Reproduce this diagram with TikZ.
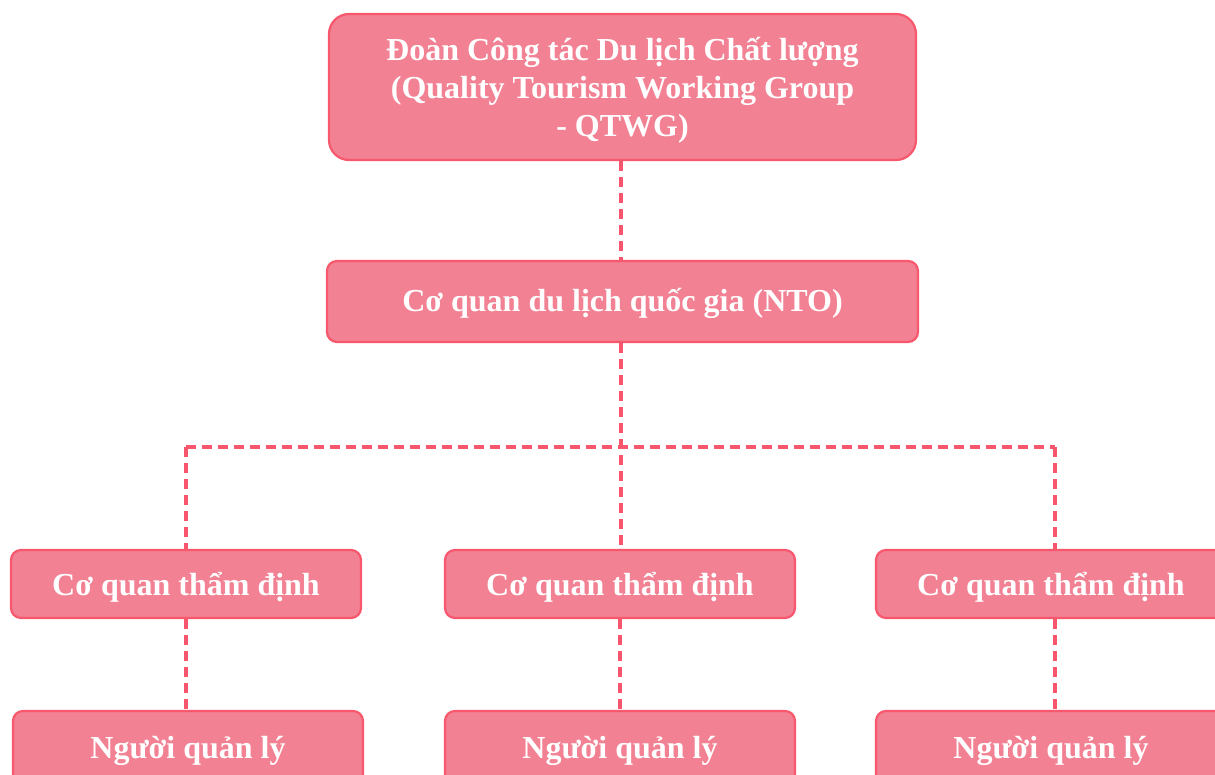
\documentclass[tikz,border=0pt]{standalone}
\usepackage{fontspec}
\setmainfont{Liberation Serif}
\definecolor{boxfill}{HTML}{F28193}
\definecolor{boxline}{HTML}{F7586E}
\definecolor{conn}{HTML}{F7566D}
\newcommand{\dropby}[2]{\raisebox{-#1}[\height][\depth]{#2}}
\tikzset{
  orgbox/.style={draw=boxline, line width=2.2pt, fill=boxfill, text=white,
    font=\bfseries\fontsize{32}{38}\selectfont, rounded corners=10pt,
    inner sep=0pt, align=center},
  link/.style={draw=conn, line width=3.6pt, dash pattern=on 10pt off 6pt}
}
\begin{document}
\begin{tikzpicture}[x=1pt,y=-1pt]
\useasboundingbox (0,0) rectangle (1215,774);
\clip (0,0) rectangle (1215,774);
\node[orgbox, rounded corners=20pt, minimum width=587pt, minimum height=146pt] (qtwg) at (622.5,87)
  {\dropby{3pt}{\parbox{560pt}{\centering Đoàn Công tác Du lịch Chất lượng\\(Quality Tourism Working Group\\- QTWG)}}};
\node[orgbox, minimum width=591pt, minimum height=81pt] (nto) at (622.5,301.5) {\dropby{2pt}{Cơ quan du lịch quốc gia (NTO)}};
\node[orgbox, minimum width=350pt, minimum height=68pt] (ml) at (186,584) {\dropby{3pt}{Cơ quan thẩm định}};
\node[orgbox, minimum width=350pt, minimum height=68pt] (mm) at (620,584) {\dropby{3pt}{Cơ quan thẩm định}};
\node[orgbox, minimum width=350pt, minimum height=68pt] (mr) at (1051,584) {\dropby{3pt}{Cơ quan thẩm định}};
\node[orgbox, minimum width=350pt, minimum height=79pt] (bl) at (188,750.5) {Người quản lý};
\node[orgbox, minimum width=350pt, minimum height=79pt] (bm) at (620,750.5) {Người quản lý};
\node[orgbox, minimum width=350pt, minimum height=79pt] (br) at (1051,750.5) {Người quản lý};
\coordinate (jl) at (186,447);
\coordinate (jr) at (1055,447);
\coordinate (jm) at (621,447);
\draw[link] (qtwg.south -| jm) -- (nto.north -| jm);
\draw[link] (nto.south -| jm) -- (mm.north -| jm);
\draw[link] (jl) -- (jr);
\draw[link] (jl) -- (ml.north -| jl);
\draw[link] (jr) -- (mr.north -| jr);
\draw[link] (ml.south -| jl) -- (bl.north -| jl);
\draw[link] (mm.south) -- (bm.north);
\draw[link] (mr.south -| jr) -- (br.north -| jr);
\end{tikzpicture}
\end{document}
